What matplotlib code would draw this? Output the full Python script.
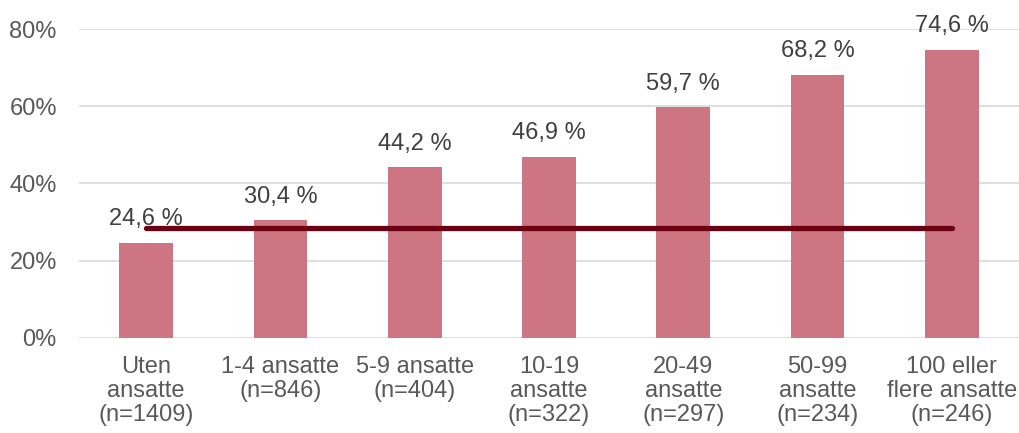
import matplotlib.pyplot as plt

categories = [
    'Uten\nansatte\n(n=1409)',
    '1-4 ansatte\n(n=846)',
    '5-9 ansatte\n(n=404)',
    '10-19\nansatte\n(n=322)',
    '20-49\nansatte\n(n=297)',
    '50-99\nansatte\n(n=234)',
    '100 eller\nflere ansatte\n(n=246)',
]
shares = [24.6, 30.4, 44.2, 46.9, 59.7, 68.2, 74.6]
average = 28.5

plt.rcParams['font.family'] = ['Liberation Sans', 'DejaVu Sans']

fig = plt.figure(figsize=(10.19, 4.33), dpi=100)
ax = fig.add_axes([0.0775, 0.22, 0.9225, 0.713])

x = list(range(len(categories)))
ax.bar(x, shares, width=0.4, color='#CD7582', zorder=2)
ax.plot([x[0], x[-1]], [average, average], color='#6B0013', linewidth=3.8,
        solid_capstyle='round', zorder=3)

for xi, v in zip(x, shares):
    ax.annotate(f'{v:.1f} %'.replace('.', ','), (xi, v), xytext=(0, 9),
                textcoords='offset points', ha='center', va='bottom',
                fontsize=17, color='#404040', zorder=4)

ax.set_xlim(-0.5, len(categories) - 0.5)
ax.set_ylim(0, 80)
ax.set_yticks([0, 20, 40, 60, 80])
ax.set_yticklabels([f'{t}%' for t in [0, 20, 40, 60, 80]])
ax.set_xticks(x)
ax.set_xticklabels(categories, linespacing=1.12)

ax.grid(axis='y', color='#D9D9D9', linewidth=1.2, zorder=0)
ax.set_axisbelow(True)
for s in ax.spines.values():
    s.set_visible(False)
ax.tick_params(axis='both', length=0, labelsize=17, labelcolor='#595959')
ax.tick_params(axis='y', pad=16)
ax.tick_params(axis='x', pad=13)

fig.savefig('out.png', dpi=100)
